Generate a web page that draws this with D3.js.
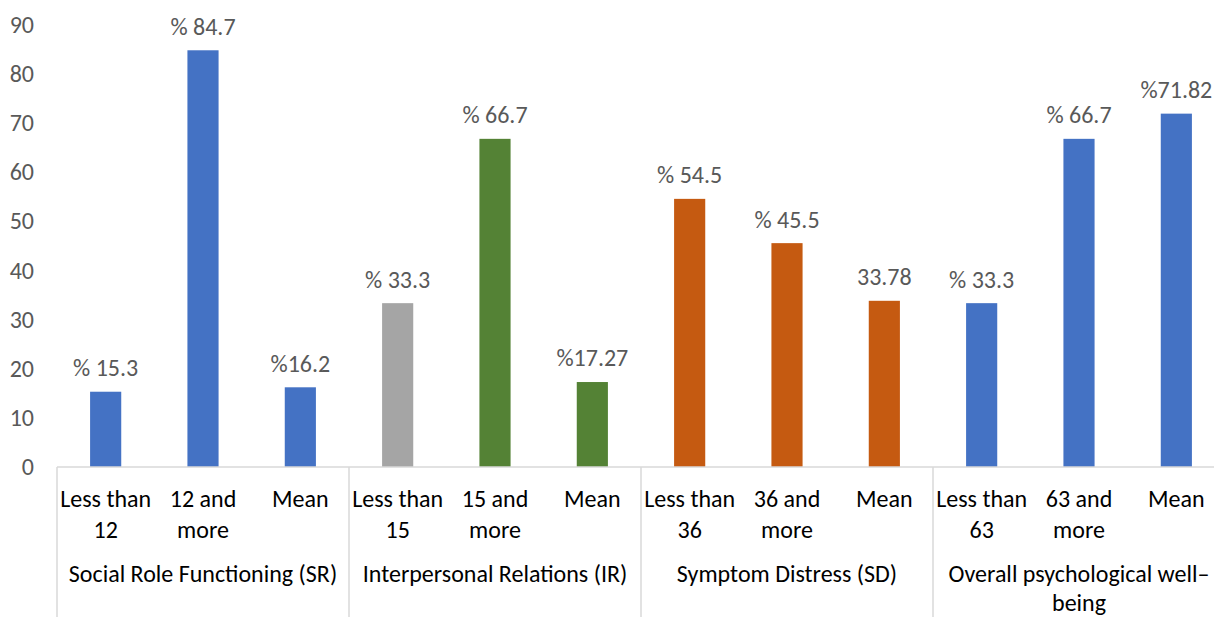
<!DOCTYPE html>
<html>
<head>
<meta charset="utf-8">
<script src="https://cdn.jsdelivr.net/npm/d3@7"></script>
<style>
  html, body { margin: 0; padding: 0; background: #fff; }
  svg { display: block; }
  text { font-family: Carlito, Lato, "Open Sans", sans-serif; }
</style>
</head>
<body>
<svg id="chart" width="1214" height="617"></svg>
<script>
// Scale groups and their sub-categories
const groups = [
  ["Social Role Functioning (SR)"],
  ["Interpersonal Relations (IR)"],
  ["Symptom Distress (SD)"],
  ["Overall psychological well–", "being"]
];
const categories = [
  ["Less than", "12"], ["12 and", "more"], ["Mean"],
  ["Less than", "15"], ["15 and", "more"], ["Mean"],
  ["Less than", "36"], ["36 and", "more"], ["Mean"],
  ["Less than", "63"], ["63 and", "more"], ["Mean"]
];
const values = [15.3, 84.7, 16.2, 33.3, 66.7, 17.27, 54.5, 45.5, 33.78, 33.3, 66.7, 71.82];
const valueLabels = ["% 15.3", "% 84.7", "%16.2", "% 33.3", "% 66.7", "%17.27",
                     "% 54.5", "% 45.5", "33.78", "% 33.3", "% 66.7", "%71.82"];
const barColors = ["#4472C4", "#4472C4", "#4472C4", "#A5A5A5", "#548235", "#548235",
                   "#C55A11", "#C55A11", "#C55A11", "#4472C4", "#4472C4", "#4472C4"];
const yTicks = [0, 10, 20, 30, 40, 50, 60, 70, 80, 90];

const svg = d3.select("#chart");
const left = 57, right = 1225, baseY = 467, topY = 24.2;
const fontSize = 24;

const x = d3.scaleBand()
  .domain(d3.range(values.length))
  .range([left, right])
  .paddingInner(0.68)
  .paddingOuter(0.34);
const step = x.step();

const y = d3.scaleLinear().domain([0, 90]).range([baseY, topY]);

// Value axis labels (no line, no grid)
svg.append("g")
  .selectAll("text")
  .data(yTicks)
  .join("text")
  .attr("x", 34)
  .attr("y", d => y(d))
  .attr("dy", "0.35em")
  .attr("text-anchor", "end")
  .attr("fill", "#595959")
  .attr("font-size", fontSize)
  .text(d => d);

// Bars
svg.append("g")
  .selectAll("rect")
  .data(values)
  .join("rect")
  .attr("x", (d, i) => x(i))
  .attr("y", d => y(d))
  .attr("width", x.bandwidth())
  .attr("height", d => y(0) - y(d))
  .attr("fill", (d, i) => barColors[i]);

// Data labels above bars
svg.append("g")
  .selectAll("text")
  .data(values)
  .join("text")
  .attr("x", (d, i) => x(i) + x.bandwidth() / 2)
  .attr("y", d => y(d) - 24)
  .attr("dy", "0.35em")
  .attr("text-anchor", "middle")
  .attr("fill", "#595959")
  .attr("font-size", fontSize)
  .text((d, i) => valueLabels[i]);

// Category axis line and group dividers
const axisG = svg.append("g").attr("stroke", "#D9D9D9").attr("stroke-width", 1.5);
axisG.append("line")
  .attr("x1", left).attr("x2", right)
  .attr("y1", baseY).attr("y2", baseY);
const dividers = d3.range(groups.length + 1).map(g => left + g * 3 * step);
axisG.selectAll("line.div")
  .data(dividers)
  .join("line")
  .attr("class", "div")
  .attr("x1", d => d).attr("x2", d => d)
  .attr("y1", baseY).attr("y2", 617);

// Sub-category labels
const catG = svg.append("g")
  .attr("fill", "#000")
  .attr("font-size", fontSize)
  .attr("text-anchor", "middle");
categories.forEach((lines, i) => {
  const cx = x(i) + x.bandwidth() / 2;
  lines.forEach((ln, k) => {
    catG.append("text")
      .attr("x", cx)
      .attr("y", 499 + k * 31)
      .attr("dy", "0.35em")
      .text(ln);
  });
});

// Group labels
groups.forEach((lines, g) => {
  const cx = left + (g * 3 + 1.5) * step;
  lines.forEach((ln, k) => {
    catG.append("text")
      .attr("x", cx)
      .attr("y", 574 + k * 29)
      .attr("dy", "0.35em")
      .text(ln);
  });
});
</script>
</body>
</html>
